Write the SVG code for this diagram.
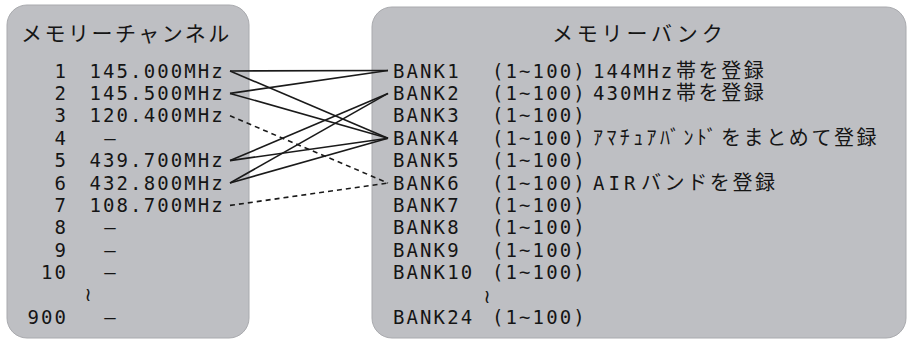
<svg xmlns="http://www.w3.org/2000/svg" width="907" height="339" viewBox="0 0 907 339">
<style>
.panel{fill:#bebfc3;stroke:#a9aaae;stroke-width:1}
.t{font-family:"DejaVu Sans Mono","Liberation Mono",monospace;font-size:19px;letter-spacing:2.1px;fill:#151515}
.j{font-family:"Noto Sans CJK JP","Noto Sans",sans-serif;font-size:20px;letter-spacing:2.6px;fill:#151515}
.title{font-family:"Noto Sans CJK JP","Noto Sans",sans-serif;font-size:21px;letter-spacing:2.5px;fill:#151515}
.w{font-family:"DejaVu Sans","Noto Sans",sans-serif;font-size:19px;fill:#151515}
.c{stroke:#1a1a1a;stroke-width:1.6;fill:none}
.d{stroke-dasharray:5 4}
</style>
<g id="channels">
<rect class="panel" x="7" y="5" width="242" height="333" rx="20"/>
<text class="title" x="21" y="41">メモリーチャンネル</text>
<text class="t" x="54.5" y="77.5">1</text><text class="t" x="89.5" y="77.5">145.000MHz</text>
<text class="t" x="54.5" y="99.9">2</text><text class="t" x="89.5" y="99.9">145.500MHz</text>
<text class="t" x="54.5" y="122.3">3</text><text class="t" x="89.5" y="122.3">120.400MHz</text>
<text class="t" x="54.5" y="144.7">4</text><text class="t" x="110" y="144.7" text-anchor="middle" style="letter-spacing:0">–</text>
<text class="t" x="54.5" y="167.1">5</text><text class="t" x="89.5" y="167.1">439.700MHz</text>
<text class="t" x="54.5" y="189.5">6</text><text class="t" x="89.5" y="189.5">432.800MHz</text>
<text class="t" x="54.5" y="211.9">7</text><text class="t" x="89.5" y="211.9">108.700MHz</text>
<text class="t" x="54.5" y="234.3">8</text><text class="t" x="110" y="234.3" text-anchor="middle" style="letter-spacing:0">–</text>
<text class="t" x="54.5" y="256.7">9</text><text class="t" x="110" y="256.7" text-anchor="middle" style="letter-spacing:0">–</text>
<text class="t" x="41" y="279.1">10</text><text class="t" x="110" y="279.1" text-anchor="middle" style="letter-spacing:0">–</text>
<text class="w" x="88" y="301" text-anchor="middle">≀</text>
<text class="t" x="27.5" y="323.9">900</text><text class="t" x="110" y="323.9" text-anchor="middle" style="letter-spacing:0">–</text>
</g>
<g id="banks">
<rect class="panel" x="372" y="7" width="534" height="331" rx="20"/>
<text class="title" x="552" y="41" style="letter-spacing:3.8px">メモリーバンク</text>
<text class="t" x="393" y="77.5">BANK1</text><text class="t" x="492" y="77.5">(1~100)</text>
<text x="593" y="77.5"><tspan class="t">144MHz</tspan><tspan class="j" x="676">帯を登録</tspan></text>
<text class="t" x="393" y="99.9">BANK2</text><text class="t" x="492" y="99.9">(1~100)</text>
<text x="593" y="99.9"><tspan class="t">430MHz</tspan><tspan class="j" x="676">帯を登録</tspan></text>
<text class="t" x="393" y="122.3">BANK3</text><text class="t" x="492" y="122.3">(1~100)</text>
<text class="t" x="393" y="144.7">BANK4</text><text class="t" x="492" y="144.7">(1~100)</text>
<text class="j" x="593" y="144.7"><tspan style="letter-spacing:3.4px">ｱﾏﾁｭｱﾊﾞﾝﾄﾞ</tspan><tspan x="721">をまとめて登録</tspan></text>
<text class="t" x="393" y="167.1">BANK5</text><text class="t" x="492" y="167.1">(1~100)</text>
<text class="t" x="393" y="189.5">BANK6</text><text class="t" x="492" y="189.5">(1~100)</text>
<text x="593" y="189.5"><tspan class="t" style="letter-spacing:4px">AIR</tspan><tspan class="j" x="641">バンドを登録</tspan></text>
<text class="t" x="393" y="211.9">BANK7</text><text class="t" x="492" y="211.9">(1~100)</text>
<text class="t" x="393" y="234.3">BANK8</text><text class="t" x="492" y="234.3">(1~100)</text>
<text class="t" x="393" y="256.7">BANK9</text><text class="t" x="492" y="256.7">(1~100)</text>
<text class="t" x="393" y="279.1">BANK10</text><text class="t" x="492" y="279.1">(1~100)</text>
<text class="w" x="487" y="303" text-anchor="middle">≀</text>
<text class="t" x="393" y="323.9">BANK24</text><text class="t" x="492" y="323.9">(1~100)</text>
</g>
<g id="connectors">
<line class="c" x1="230" y1="71" x2="388" y2="70.5"/>
<line class="c" x1="230" y1="71" x2="388" y2="138.2"/>
<line class="c" x1="230" y1="93.4" x2="388" y2="70.5"/>
<line class="c" x1="230" y1="93.4" x2="388" y2="138.2"/>
<line class="c" x1="230" y1="160.6" x2="388" y2="93.4"/>
<line class="c" x1="230" y1="160.6" x2="388" y2="138.2"/>
<line class="c" x1="230" y1="183" x2="388" y2="93.4"/>
<line class="c" x1="230" y1="183" x2="388" y2="138.2"/>
<line class="c d" x1="230" y1="115.8" x2="388" y2="183"/>
<line class="c d" x1="230" y1="205.4" x2="388" y2="183"/>
</g>
</svg>
